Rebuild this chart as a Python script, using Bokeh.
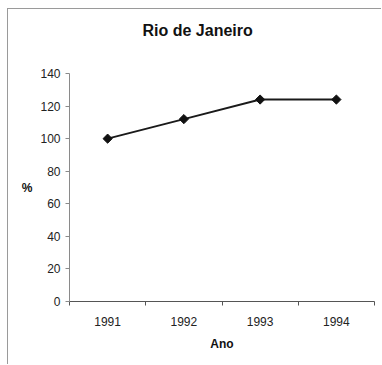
import math

from bokeh.embed import file_html
from bokeh.models import FixedTicker, Range1d, Title
from bokeh.plotting import figure
from bokeh.resources import INLINE

# Index values (%) per year
years = ["1991", "1992", "1993", "1994"]
values = [100, 112, 124, 124]
y_ticks = [0, 20, 40, 60, 80, 100, 120, 140]

FONT = "Liberation Sans"
xs = list(range(1, len(years) + 1))

p = figure(
    width=374, height=356,
    x_range=Range1d(0.5, len(years) + 0.5),
    y_range=Range1d(0, 140),
    output_backend="svg", toolbar_location=None,
    min_border_left=61, min_border_right=8,
    min_border_top=0, min_border_bottom=64,
)
p.margin = (8, 0, 0, 7)
p.styles = {"border-top": "1px solid #9a9a9a", "border-left": "1px solid #9a9a9a"}
p.outline_line_color = None
p.background_fill_color = "white"
p.border_fill_color = "white"
p.xgrid.visible = False
p.ygrid.visible = False
p.title.text = ""

# Gap between the title and the plot area, then the title itself
p.add_layout(Title(text=" ", text_font=FONT, text_font_size="12px", standoff=7), "above")
p.add_layout(Title(text="Rio de Janeiro", text_font=FONT, text_font_size="16px",
                   text_font_style="bold", text_color="#111111",
                   align="left", offset=73, vertical_align="middle", standoff=22), "above")

# Category axis: labels at the centres, ticks on the boundaries
p.xaxis.ticker = FixedTicker(ticks=xs, minor_ticks=[x - 0.5 for x in xs] + [xs[-1] + 0.5])
p.xaxis.major_label_overrides = {x: y for x, y in zip(xs, years)}
p.xaxis.major_tick_line_color = None
p.xaxis.major_tick_out = 4
p.xaxis.major_tick_in = 0
p.xaxis.minor_tick_line_color = "#555555"
p.xaxis.minor_tick_out = 4
p.xaxis.minor_tick_in = 0
p.xaxis.major_label_standoff = 11
p.xaxis.axis_line_color = "#555555"
p.xaxis.axis_label = "Ano"
p.xaxis.axis_label_standoff = 8

p.yaxis.ticker = FixedTicker(ticks=y_ticks)
p.yaxis.minor_tick_line_color = None
p.yaxis.major_tick_out = 4
p.yaxis.major_tick_in = 0
p.yaxis.major_tick_line_color = "#8a8a8a"
p.yaxis.axis_line_color = "#8a8a8a"
p.yaxis.major_label_standoff = 5
p.yaxis.axis_label = "%"
p.yaxis.axis_label_orientation = "horizontal"
p.yaxis.axis_label_standoff = 5

for ax in (p.xaxis, p.yaxis):
    ax.major_label_text_font = FONT
    ax.major_label_text_font_size = "12px"
    ax.major_label_text_color = "#222222"
    ax.axis_label_text_font = FONT
    ax.axis_label_text_font_size = "12px"
    ax.axis_label_text_font_style = "bold"
    ax.axis_label_text_color = "#111111"

p.line(xs, values, line_color="#1a1a1a", line_width=2)
p.scatter(xs, values, marker="square", size=6.5, angle=math.pi / 4,
          fill_color="#111111", line_color="#111111")

open("out.html", "w").write(file_html(p, INLINE))
